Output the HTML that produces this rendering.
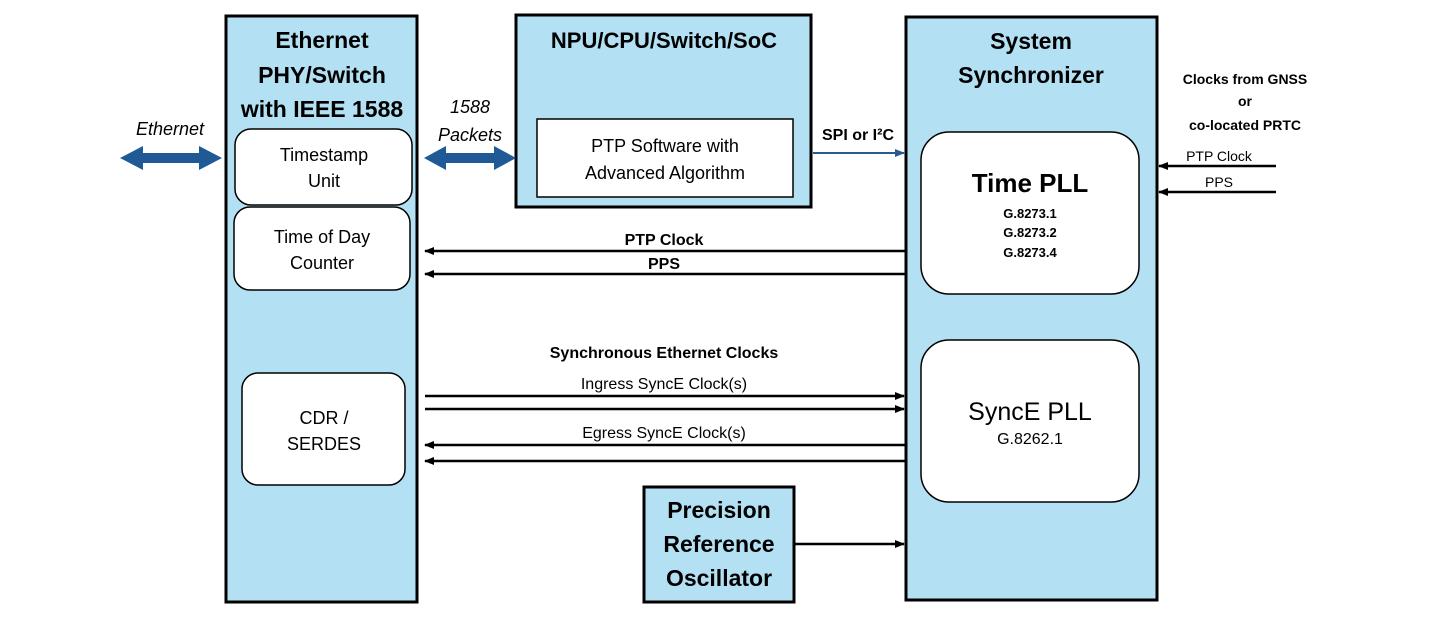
<!DOCTYPE html>
<html><head><style>body{margin:0;background:#fff}svg{display:block}text{font-family:"Liberation Sans",sans-serif}</style></head>
<body>
<svg width="1430" height="639" viewBox="0 0 1430 639" xmlns="http://www.w3.org/2000/svg">
<defs>
<marker id="a" markerWidth="10" markerHeight="8" refX="9" refY="4" orient="auto" markerUnits="userSpaceOnUse"><path d="M0,0 L10,4 L0,8 Z" fill="#000"/></marker>
<marker id="b" markerWidth="10" markerHeight="8" refX="9" refY="4" orient="auto" markerUnits="userSpaceOnUse"><path d="M0,0 L10,4 L0,8 Z" fill="#2a5a8a"/></marker>
</defs>
<g fill="#b3e1f3" stroke="#000" stroke-width="3">
<rect x="226" y="16" width="191" height="586"/>
<rect x="516" y="15" width="295" height="192"/>
<rect x="906" y="17" width="251" height="583"/>
<rect x="644" y="487" width="150" height="115"/>
</g>
<g fill="#fff" stroke="#000" stroke-width="1.5">
<rect x="537" y="119" width="256" height="78"/>
<rect x="235" y="129" width="177" height="76" rx="16"/>
<rect x="234" y="207" width="176" height="83" rx="16"/>
<rect x="242" y="373" width="163" height="112" rx="16"/>
<rect x="921" y="132" width="218" height="162" rx="28"/>
<rect x="921" y="340" width="218" height="162" rx="28"/>
</g>
<g font-weight="bold" text-anchor="middle" fill="#000">
<text x="322" y="48" font-size="23">Ethernet</text>
<text x="322" y="83" font-size="23">PHY/Switch</text>
<text x="322" y="117" font-size="23">with IEEE 1588</text>
<text x="664" y="48" font-size="22">NPU/CPU/Switch/SoC</text>
<text x="1031" y="49" font-size="23">System</text>
<text x="1031" y="83" font-size="23">Synchronizer</text>
<text x="719" y="518" font-size="23">Precision</text>
<text x="719" y="552" font-size="23">Reference</text>
<text x="719" y="586" font-size="23">Oscillator</text>
<text x="1030" y="192" font-size="26">Time PLL</text>
<text x="1030" y="218" font-size="13">G.8273.1</text>
<text x="1030" y="237" font-size="13">G.8273.2</text>
<text x="1030" y="257" font-size="13">G.8273.4</text>
<text x="1245" y="84" font-size="14">Clocks from GNSS</text>
<text x="1245" y="106" font-size="14">or</text>
<text x="1245" y="130" font-size="14">co-located PRTC</text>
<text x="858" y="140" font-size="16">SPI or I²C</text>
<text x="664" y="245" font-size="16">PTP Clock</text>
<text x="664" y="269" font-size="16">PPS</text>
<text x="664" y="358" font-size="16">Synchronous Ethernet Clocks</text>
</g>
<g text-anchor="middle" fill="#000" font-size="18">
<text x="324" y="161">Timestamp</text><text x="324" y="187">Unit</text>
<text x="322" y="243">Time of Day</text><text x="322" y="269">Counter</text>
<text x="324" y="424">CDR /</text><text x="324" y="450">SERDES</text>
<text x="665" y="152">PTP Software with</text><text x="665" y="179">Advanced Algorithm</text>
<text x="1030" y="420" font-size="25">SyncE PLL</text>
<text x="1030" y="444" font-size="16">G.8262.1</text>
<text x="664" y="389" font-size="16">Ingress SyncE Clock(s)</text>
<text x="664" y="438" font-size="16">Egress SyncE Clock(s)</text>
<text x="1219" y="161" font-size="14">PTP Clock</text>
<text x="1219" y="187" font-size="14">PPS</text>
<text x="170" y="135" font-style="italic">Ethernet</text>
<text x="470" y="113" font-style="italic">1588</text>
<text x="470" y="141" font-style="italic">Packets</text>
</g>
<g fill="#1f5a96">
<path d="M120,158 L143,146 L143,153 L199,153 L199,146 L222,158 L199,170 L199,163 L143,163 L143,170 Z"/>
<path d="M424,158 L446,146 L446,153 L494,153 L494,146 L516,158 L494,170 L494,163 L446,163 L446,170 Z"/>
</g>
<line x1="813" y1="153" x2="904" y2="153" stroke="#2a5a8a" stroke-width="2" marker-end="url(#b)"/>
<g stroke="#000" stroke-width="2.5">
<line x1="906" y1="251" x2="425" y2="251" marker-end="url(#a)"/>
<line x1="906" y1="274" x2="425" y2="274" marker-end="url(#a)"/>
<line x1="425" y1="396" x2="904" y2="396" marker-end="url(#a)"/>
<line x1="425" y1="409" x2="904" y2="409" marker-end="url(#a)"/>
<line x1="906" y1="445" x2="425" y2="445" marker-end="url(#a)"/>
<line x1="906" y1="461" x2="425" y2="461" marker-end="url(#a)"/>
<line x1="794" y1="544" x2="904" y2="544" marker-end="url(#a)"/>
<line x1="1276" y1="166" x2="1159" y2="166" marker-end="url(#a)"/>
<line x1="1276" y1="192" x2="1159" y2="192" marker-end="url(#a)"/>
</g>
</svg>
</body></html>
